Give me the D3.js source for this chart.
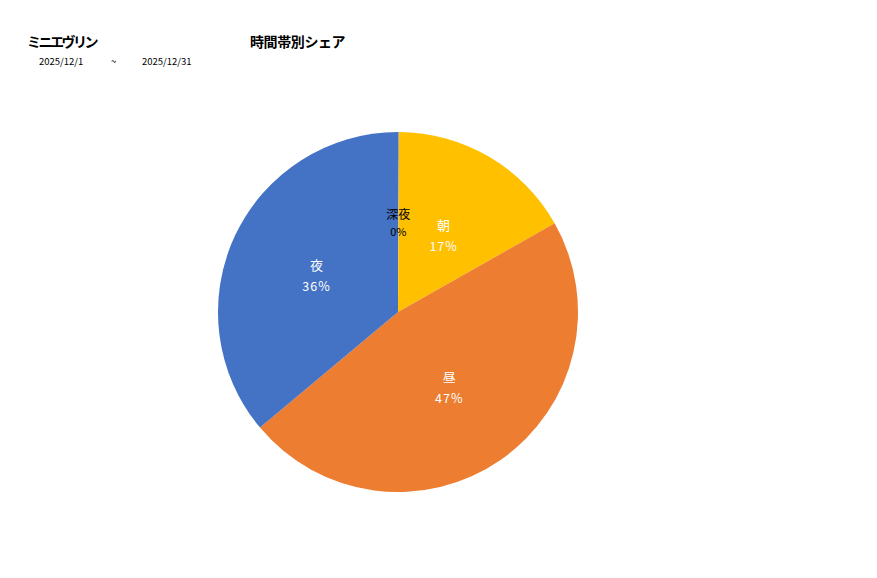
<!DOCTYPE html>
<html>
<head>
<meta charset="utf-8">
<script src="https://cdn.jsdelivr.net/npm/d3@7"></script>
<style>
  body { margin: 0; background: #fff; }
  text { font-family: "Noto Sans CJK JP", "Noto Sans", sans-serif; }
</style>
</head>
<body>
<script>
// data
var categories = ["深夜", "朝", "昼", "夜"];
var shares = [0.1, 16.7, 47.1, 36.1];
var labels = ["0%", "17%", "47%", "36%"];
var colors = ["#a5a5a5", "#ffc000", "#ed7d31", "#4472c4"];
var labelColors = ["#000", "#fff", "#fff", "#fff"];

var width = 877, height = 578;
var cx = 398, cy = 312, radius = 180;

var svg = d3.select("body").append("svg")
    .attr("width", width)
    .attr("height", height);

// header
svg.append("text").text("ミニエヴリン")
    .attr("x", 27).attr("y", 47)
    .attr("font-size", 14).attr("font-weight", "bold")
    .attr("letter-spacing", -2.5);
svg.append("text").text("時間帯別シェア")
    .attr("x", 250).attr("y", 47)
    .attr("font-size", 14).attr("font-weight", "bold")
    .attr("letter-spacing", -0.4);
svg.append("text").text("2025/12/1")
    .attr("x", 39).attr("y", 65).attr("font-size", 9.5);
svg.append("text").text("~")
    .attr("x", 111).attr("y", 65).attr("font-size", 9.5);
svg.append("text").text("2025/12/31")
    .attr("x", 142).attr("y", 65).attr("font-size", 9.5);

var pie = d3.pie().sort(null).value(d => d)(shares);
var arc = d3.arc().innerRadius(0).outerRadius(radius);

var g = svg.append("g")
    .attr("transform", "translate(" + cx + "," + cy + ")");

g.selectAll("path")
  .data(pie).enter()
  .append("path")
    .attr("d", arc)
    .attr("fill", (d, i) => colors[i]);

var lab = g.selectAll("g.lab")
  .data(pie).enter()
  .append("g")
    .attr("class", "lab")
    .attr("transform", d => "translate(" + arc.centroid(d) + ")");

lab.append("text")
    .text((d, i) => categories[i])
    .attr("text-anchor", "middle")
    .attr("y", (d, i) => i === 0 ? -3 : -4)
    .attr("font-size", (d, i) => i === 0 ? 12 : 13)
    .attr("fill", (d, i) => labelColors[i]);

lab.append("text")
    .text((d, i) => labels[i])
    .attr("text-anchor", "middle")
    .attr("y", (d, i) => i === 0 ? 14 : 17)
    .attr("font-size", (d, i) => i === 0 ? 11 : 12.5)
    .attr("letter-spacing", (d, i) => i === 0 ? 0 : 1)
    .attr("fill", (d, i) => labelColors[i]);
</script>
</body>
</html>
